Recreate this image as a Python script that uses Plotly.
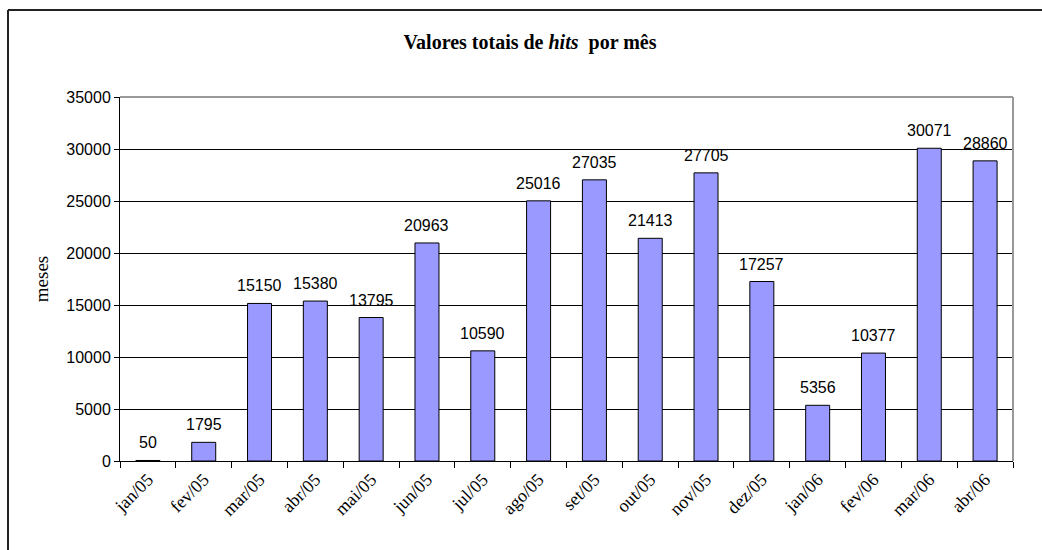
import plotly.graph_objects as go

months = ["jan/05", "fev/05", "mar/05", "abr/05", "mai/05", "jun/05", "jul/05", "ago/05",
          "set/05", "out/05", "nov/05", "dez/05", "jan/06", "fev/06", "mar/06", "abr/06"]
hits = [50, 1795, 15150, 15380, 13795, 20963, 10590, 25016,
        27035, 21413, 27705, 17257, 5356, 10377, 30071, 28860]
y_ticks = [0, 5000, 10000, 15000, 20000, 25000, 30000, 35000]

SERIF = "Liberation Serif, Times New Roman, serif"
SANS = "Liberation Sans, Arial, sans-serif"

W, H = 1042, 550
L, R, T, B = 120, 1013, 97, 461

fig = go.Figure()
fig.add_trace(go.Bar(
    x=months, y=hits, width=0.43,
    marker=dict(color="#9999FF", line=dict(color="#000000", width=1)),
    showlegend=False, hoverinfo="x+y",
))

for m, v in zip(months, hits):
    fig.add_annotation(x=m, y=v, text=str(v), showarrow=False, yanchor="bottom",
                       yshift=7, font=dict(family=SANS, size=16, color="black"))

px = lambda p: (p - L) / (R - L)
py = lambda p: (B - p) / (B - T)

frame = dict(color="#222222", width=2)
shapes = [
    # outer chart frame: top and left edges (right/bottom lie outside the picture)
    dict(type="line", xref="paper", yref="paper", x0=px(8), x1=px(1042), y0=py(10), y1=py(10),
         line=frame, layer="below"),
    dict(type="line", xref="paper", yref="paper", x0=px(8), x1=px(8), y0=py(10), y1=py(550),
         line=frame, layer="below"),
    # plot-area border top and right (gray)
    dict(type="line", xref="paper", yref="paper", x0=0, x1=1, y0=1, y1=1,
         line=dict(color="#999999", width=2), layer="above"),
    dict(type="line", xref="paper", yref="paper", x0=1, x1=1, y0=0, y1=1,
         line=dict(color="#999999", width=2), layer="above"),
]

fig.update_layout(
    width=W, height=H,
    margin=dict(l=L, r=W - R, t=T, b=H - B),
    paper_bgcolor="white", plot_bgcolor="white",
    title=dict(text="<b>Valores totais de <i>hits</i>  por mês</b>",
               x=530 / W, xanchor="center", y=1 - 42 / H, yanchor="middle",
               font=dict(family=SERIF, size=20, color="black")),
    shapes=shapes,
)

fig.update_xaxes(
    type="category", tickson="boundaries", ticks="outside", ticklen=6, tickcolor="black",
    showline=True, linecolor="black", linewidth=1, showgrid=False,
    tickangle=-45, tickfont=dict(family=SERIF, size=18, color="black"),
    range=[-0.5, len(months) - 0.5],
)
fig.update_yaxes(
    range=[0, 35000], tickvals=y_ticks, ticktext=[str(v) for v in y_ticks],
    ticks="outside", ticklen=5, tickcolor="black",
    showline=True, linecolor="black", linewidth=1,
    showgrid=True, gridcolor="black", gridwidth=1, zeroline=False,
    tickfont=dict(family=SANS, size=16, color="black"),
    title=dict(text="meses", font=dict(family=SERIF, size=19, color="black"), standoff=12),
)

fig.write_html(
    "out.html", config={"displayModeBar": False},
    post_script=("document.body.style.margin='0';document.body.style.overflow='hidden';"
                 "document.documentElement.style.overflow='hidden';"),
)
